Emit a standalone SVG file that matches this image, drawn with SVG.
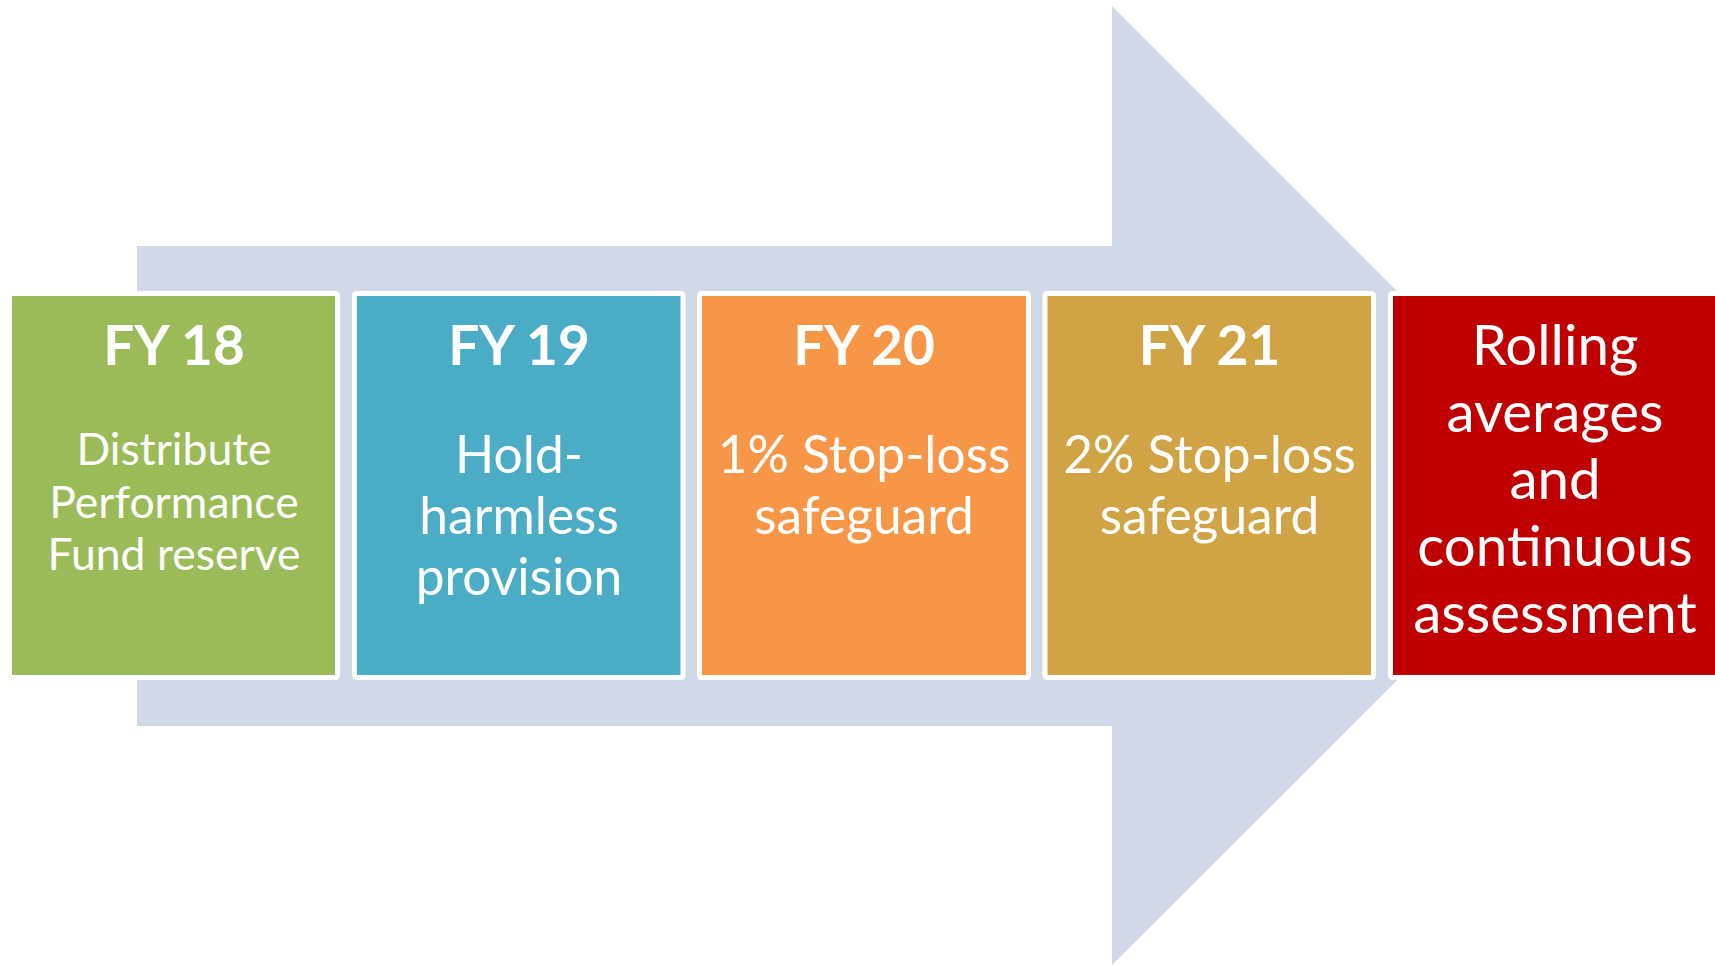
<svg xmlns="http://www.w3.org/2000/svg" width="1715" height="965" viewBox="0 0 1715 965">
<style>
.box{stroke:#FFFFFF;stroke-width:5}
.t{font-family:Lato,"Liberation Sans",sans-serif;fill:#FFFFFF;text-anchor:middle}
.title{font-weight:bold;font-size:55px}
.b1{font-size:44.5px}
.b2{font-size:51.5px}
.b5{font-size:56.5px}
</style>
<rect width="1715" height="965" fill="#FFFFFF"/>
<g id="connectors">
<polygon id="arrow" points="137,246 1112,246 1112,6 1592,486 1112,965 1112,726 137,726" fill="#D1D8E7"/>
</g>
<g id="fy18">
<rect class="box" x="9.5" y="293.5" width="328" height="384" rx="2" fill="#9BBB59"/>
<text class="t title" x="174" y="365">FY 18</text>
<text class="t b1" x="174" y="465">Distribute</text>
<text class="t b1" x="174" y="518">Performance</text>
<text class="t b1" x="174" y="570">Fund reserve</text>
</g>
<g id="fy19">
<rect class="box" x="354.5" y="293.5" width="328.5" height="384" rx="2" fill="#4BACC6"/>
<text class="t title" x="519" y="365">FY 19</text>
<text class="t b2" x="519" y="473">Hold-</text>
<text class="t b2" x="519" y="534">harmless</text>
<text class="t b2" x="519" y="595">provision</text>
</g>
<g id="fy20">
<rect class="box" x="699.5" y="293.5" width="329" height="384" rx="2" fill="#F79646"/>
<text class="t title" x="864" y="365">FY 20</text>
<text class="t b2" x="864" y="473">1% Stop-loss</text>
<text class="t b2" x="864" y="534">safeguard</text>
</g>
<g id="fy21">
<rect class="box" x="1045" y="293.5" width="328.5" height="384" rx="2" fill="#D0A345"/>
<text class="t title" x="1209.5" y="365">FY 21</text>
<text class="t b2" x="1209.5" y="473">2% Stop-loss</text>
<text class="t b2" x="1209.5" y="534">safeguard</text>
</g>
<g id="rolling">
<rect class="box" x="1390.5" y="293.5" width="328.5" height="384" rx="2" fill="#C00000"/>
<text class="t b5" x="1555" y="365">Rolling</text>
<text class="t b5" x="1555" y="432">averages</text>
<text class="t b5" x="1555" y="499">and</text>
<text class="t b5" x="1555" y="566">continuous</text>
<text class="t b5" x="1555" y="633">assessment</text>
</g>
</svg>
